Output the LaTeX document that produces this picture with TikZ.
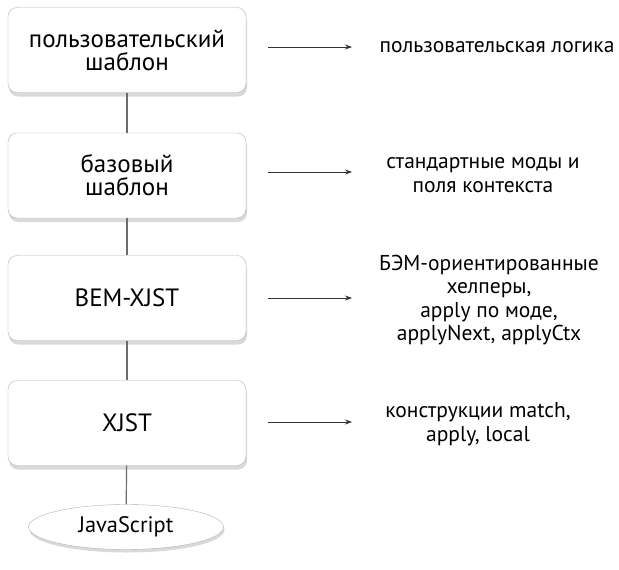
\documentclass[tikz,border=0pt]{standalone}
\usepackage{fontspec}
\setmainfont{PT Sans}
\usetikzlibrary{arrows.meta,shapes.geometric,shadows}
\begin{document}
\begin{tikzpicture}[x=1pt,y=-1pt]
\tikzstyle{lvl}=[draw=gray!60,fill=white,rounded corners=9pt,minimum width=238pt,minimum height=85pt,align=center,font=\fontsize{25}{23}\selectfont,drop shadow={shadow xshift=1pt,shadow yshift=-4pt,opacity=0.3}]
\tikzstyle{txt}=[align=center,font=\fontsize{21.5}{23.5}\selectfont]
\tikzstyle{link}=[draw=gray!85!black,line width=1.2pt]
\tikzstyle{feat}=[draw=black!80,line width=0.8pt,-{Stealth[length=7pt,width=5pt]}]
\useasboundingbox (0,0) rectangle (619,570);

\node[lvl](l1) at (127,50){пользовательский\\шаблон};
\node[lvl](l2) at (127,175.5){базовый\\шаблон};
\node[lvl](l3) at (127,298){BEM-XJST};
\node[lvl](l4) at (127,423){XJST};
\node[draw=gray!60,fill=white,shape=ellipse,minimum width=195pt,minimum height=45pt,inner sep=0pt,font=\fontsize{22.4}{24}\selectfont,drop shadow={shadow xshift=1pt,shadow yshift=-3pt,opacity=0.3}](js) at (126,527){JavaScript};
%
\draw[link] (l1) -- (l2);
\draw[link] (l2) -- (l3);
\draw[link] (l3) -- (l4);
\draw[link] (l4) -- (js);
%
\node[txt](t1) at (497,47){пользовательская логика};
\node[txt](t2) at (483,175){стандартные моды и\\поля контекста};
\node[txt](t3) at (489,300){БЭМ-ориентированные\\хелперы,\\apply по моде,\\applyNext, applyCtx};
\node[txt](t4) at (478,424){конструкции match,\\apply, local};
%
\coordinate (a1) at (268,47); \coordinate (b1) at (352,47);
\coordinate (a2) at (268,172); \coordinate (b2) at (352,172);
\coordinate (a3) at (268,298); \coordinate (b3) at (352,298);
\coordinate (a4) at (268,422); \coordinate (b4) at (352,422);
\draw[feat] (a1) -- (b1);
\draw[feat] (a2) -- (b2);
\draw[feat] (a3) -- (b3);
\draw[feat] (a4) -- (b4);
\end{tikzpicture}
\end{document}
